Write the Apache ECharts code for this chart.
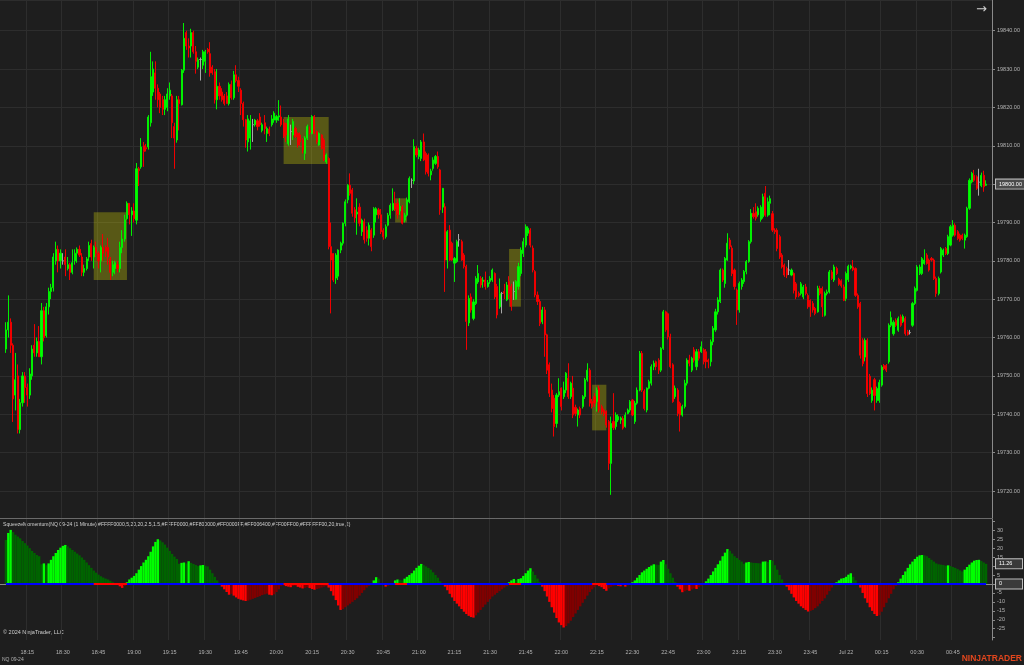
<!DOCTYPE html>
<html><head><meta charset="utf-8">
<script src="https://cdn.jsdelivr.net/npm/echarts@6/dist/echarts.min.js"></script>
<style>html,body{margin:0;padding:0;background:#1e1e1e;}#c{width:1024px;height:665px;}</style>
</head><body><div id="c"></div>
<script>
// ---- axis / time ----
const axisStart = '18:04';
const axisMinutes = 418;
const firstBarTime = '18:06';
const dayLabel = 'Jul 22';

// ---- NQ 09-24 1-minute bars (18:06 .. 00:59) ----
const opens = [
19757,19762,19764,19758,
19745,19750,19736,19743,19750,19747,19745,19750,19758,19756,
19759,19755,19767,19760.5,19768,19772,19773,19780,19783,19780,
19780,19781,19778,19779,19777,19780,19782,19783,19781,19777,
19778,19781,19784.5,19781,19783.5,19782,19780,19783.5,19783.5,19783.5,
19780.5,19777,19778,19779,19778,19783.5,19785.7,19791,19795,19792,
19793,19790.6,19804,19804.5,19810,19809.5,19809.7,19816,19824,19829,
19825,19823.5,19822,19819.5,19820,19823,19823,19815,19811.5,19822,
19820.7,19829.7,19839.5,19836,19836,19839.5,19834.5,19830.5,19832.5,19831,
19832,19835.1,19834,19830.5,19829.3,19822,19825.5,19824,19823,19823,
19821,19826,19822.5,19828.5,19827,19824.5,19821,19816.8,19811,19812,
19815.5,19815.5,19816.5,19817.5,19814,19816,19813.2,19814.3,19815.5,19816.7,
19816.7,19817.5,19817.5,19816,19815.8,19810.5,19813.7,19812.8,19814.5,19813.2,
19812.8,19811.5,19808,19812,19814,19813.2,19817.6,19813.7,19810.2,19812.8,
19811.5,19805.8,19806.7,19783.7,19781.9,19775.5,19776,19782.8,19784.6,19789.8,
19795.9,19799.7,19798.5,19793.3,19792.2,19794,19787.6,19790.2,19788,19785.9,
19788,19786.7,19792,19793.3,19792,19787.9,19786.3,19789.3,19791.9,19793.3,
19795,19795,19793,19794,19790.6,19791.9,19795.4,19801,19800.8,19809.3,
19807.2,19806.7,19811,19808,19807.6,19802.4,19804.1,19805.4,19807.2,19803.7,
19794,19794.1,19780.2,19788,19784.6,19779.4,19779.8,19785.5,19785,19781.5,
19778.5,19763.8,19770.6,19765,19768.9,19774.5,19775.4,19774.6,19775,19773.3,
19774.6,19775,19776.7,19773.3,19768,19771.5,19772,19769.8,19774.6,19773.3,
19772,19770,19773.3,19776.7,19781.9,19784.1,19787.2,19788,19783.3,19777.2,
19771.1,19769.4,19764.1,19767.2,19760.7,19752.9,19746.3,19744.2,19737.6,19745,
19746.8,19744.6,19746.3,19749.4,19744.6,19746.8,19741.8,19739.8,19741.5,19742,
19744.6,19749,19751.5,19743.3,19744.6,19743.3,19746.8,19742,19741.1,19740.7,
19738.1,19727.2,19738.1,19736.8,19738.5,19738.5,19738.9,19736.8,19740.2,19741.1,
19743.7,19738.1,19742.9,19746.3,19755.9,19746,19741.1,19746.8,19748.1,19752.4,
19753.7,19754.1,19751.5,19757.2,19766.7,19766.2,19760.2,19752.9,19744.6,19746.3,
19742.9,19739.8,19742,19748.1,19754.1,19751.5,19756.8,19752.4,19756.3,19756.3,
19756.8,19756.3,19754.1,19753.7,19758.9,19762,19766.7,19769.4,19777.6,19774.1,
19780.2,19785.4,19783.3,19777.6,19772.4,19767.2,19773.3,19774.6,19777.2,19779.8,
19785,19792.4,19792.8,19792,19790.8,19791.5,19797.6,19791.9,19795,19792.3,
19788,19788,19786.3,19781.5,19778.9,19778,19777.6,19776.3,19776.7,19774,
19771.5,19771.5,19770.6,19773.2,19771,19769.7,19768.9,19767.6,19766.7,19772.8,
19772.8,19765.8,19771.5,19771.9,19777.1,19775,19778,19775.2,19774.8,19773.2,
19770.2,19775.1,19778.2,19778.4,19778,19771,19768.9,19759.3,19754.9,19759.3,
19749.9,19743.6,19749,19743.6,19743.6,19747.6,19752.7,19752.7,19753.7,19763.2,
19761,19764.5,19761.9,19765.4,19764.2,19765,19761.5,19761.3,19763.2,19768.9,
19772.3,19776.7,19776.7,19779.3,19781.5,19780.2,19780.6,19780.2,19775.4,19771.5,
19777.1,19781.5,19783.2,19781.9,19784.1,19786.7,19789.3,19787.6,19786.7,19786.7,
19785.4,19786.3,19793.7,19800.6,19802.3,19801.9,19800.5,19799.6,19802.3,19799.7
];
const highs = [
19764,19771,19765,19758.5,
19756,19753,19744,19751,19751,19748,19752,19758,19763.5,19760,
19763,19769,19768,19769,19773,19774,19782,19785,19784,19783,
19782,19783,19781,19779.5,19783,19783,19783.5,19784,19782,19779,
19781,19785,19785.5,19784,19785,19782.5,19784,19787,19784,19786,
19781,19780,19780,19780,19785,19788,19792,19795.5,19795,19794,
19795,19805.5,19804.5,19812,19811,19810.5,19818,19834.5,19832,19832,
19826,19824,19823,19823,19825,19826.5,19823.5,19816,19823,19823,
19830,19842,19840,19838,19840.5,19840,19836,19833,19833,19835,
19835,19835.5,19837,19831,19830,19830,19826.5,19825,19823.5,19824,
19826.5,19827,19829.5,19831,19828,19825,19821.5,19817,19818,19818,
19817,19817,19817,19818.5,19816,19818,19815,19815,19818,19819,
19818,19821.9,19820.5,19817,19816,19818,19815.5,19817,19815,19813.5,
19813.5,19812,19812.5,19815.5,19815,19818,19818,19814,19813.5,19813,
19812,19808,19807,19790,19782,19782,19783,19785,19790,19796,
19800,19802.8,19799,19794,19796.3,19795,19791,19791,19789,19790,
19788.5,19794,19794,19793.8,19793.5,19788.5,19789.5,19792.5,19795,19798.9,
19798,19796,19796.3,19794.5,19792.5,19796.5,19802,19801.5,19811.7,19810,
19809.5,19811.5,19813.2,19808.5,19808,19804,19807,19807.6,19808.5,19804,
19799,19795,19788,19789.3,19785,19781,19785.5,19787,19785.5,19782,
19779,19771,19771.5,19770,19776,19778.9,19776,19775.8,19777.2,19775,
19776,19778,19777,19774,19775.4,19771.9,19774,19774.5,19776,19774,
19774.6,19775,19779.5,19783.5,19786,19789.5,19789,19788.5,19784,19777.6,
19772,19770,19768,19768,19761,19753.5,19748,19745,19745.5,19749.4,
19747,19748.5,19751,19753.3,19748.5,19750,19742.5,19741.5,19742,19745,
19749.5,19753.3,19752,19744,19745.5,19747,19747.5,19742.5,19741.5,19741,
19738.5,19739.4,19745.5,19740.5,19740,19739.4,19739.5,19740.5,19741.5,19743.7,
19744,19743.5,19747,19756.5,19756.5,19746.5,19747,19749,19753,19754,
19754,19754.6,19757.5,19767.2,19767,19766.5,19761,19753.3,19747.5,19746.8,
19743.3,19742.5,19749,19754.6,19755.5,19755,19757.5,19757,19757,19759,
19757.2,19757,19754.5,19759.5,19763,19767.5,19770.5,19778,19778,19781,
19787.2,19786,19784,19778,19772.8,19774.6,19775.5,19777.6,19780.2,19785.4,
19793.5,19794,19795,19794.2,19794.5,19797.5,19799.5,19796.5,19797,19793,
19788.5,19788.5,19786.8,19782,19779.3,19778.5,19780.2,19778,19777,19774.5,
19772,19774.5,19773.7,19774,19771.5,19770,19769.5,19768,19773.5,19773.5,
19773.3,19772,19772.5,19777.6,19777.6,19779,19778.5,19775.6,19775.2,19773.8,
19777.2,19779,19779,19780.2,19778.3,19771.5,19769.3,19759.8,19759.8,19759.8,
19750.5,19747,19749.5,19747.2,19749,19752.8,19753.1,19753.1,19763.7,19766.8,
19764.5,19765,19765.5,19766,19766,19765.5,19762,19762,19769.3,19773.3,
19778.9,19779,19781,19783,19782,19780.6,19781,19780.6,19775.9,19775.9,
19783.6,19783.2,19783.6,19786.8,19789.4,19790.6,19789.8,19788,19787.1,19787.1,
19787.1,19794.1,19801.5,19803.2,19803.7,19802.3,19804,19803,19803.5,19801
];
const lows = [
19756,19760,19756,19738,
19741,19735,19735,19742,19743,19742,19744,19749,19755,19755,
19755,19753,19759,19760,19766,19770,19772,19779,19777,19778,
19779,19776,19777.5,19775,19776.5,19779,19779.5,19781,19776,19776,
19777.5,19780,19780,19778,19781,19778,19777,19780,19781,19779,
19775,19776,19776.5,19777,19777,19782,19785,19790.7,19789.5,19786.5,
19790,19789.5,19799.5,19804,19804.5,19808.5,19809,19815,19823,19822,
19820,19818.5,19818,19818,19819,19822,19812,19804,19810.8,19814,
19820.5,19829,19835,19833,19833,19834,19828.8,19830,19827,19830,
19829,19834,19828,19828.5,19821,19819.5,19822,19821.5,19820.5,19821,
19820.5,19822,19822,19826.5,19824,19818,19815,19809.5,19808.5,19809,
19811,19815,19814,19815,19813.5,19813,19811,19812.5,19815,19816,
19816,19816.5,19815,19812,19811,19810,19810.2,19811.5,19812,19809.5,
19810,19808,19806.3,19811.5,19813,19813,19813,19810.5,19810,19809,
19806,19805.3,19783,19766.3,19774.5,19774,19775,19782,19784,19789,
19795,19797,19791.5,19790,19786.8,19789,19786.5,19784.5,19785,19784,
19782.5,19786,19790,19791,19787,19785.5,19785.8,19789,19791,19793,
19793,19791,19792,19789.5,19790,19791.5,19795,19799,19800,19807,
19806.5,19806,19806,19802.5,19802,19801,19803.5,19805,19804,19792,
19792.5,19771.9,19778,19780,19780,19774.5,19779.5,19783.7,19780,19778,
19756.8,19763,19766.5,19764.5,19768.5,19774,19773,19773,19772.5,19773,
19774,19774.5,19770,19765,19767.5,19766.3,19770,19769.5,19770,19767,
19769.8,19769.8,19772.5,19776,19781,19783.5,19786.5,19783.5,19777,19770.5,
19768.5,19763,19763.5,19755,19750.5,19744.5,19740.5,19734.2,19736.5,19744.5,
19741,19744,19745.5,19744,19744,19739,19739.5,19736.8,19739,19741.5,
19744,19748.5,19742,19741.5,19742,19740.7,19740.5,19740,19739.5,19736.5,
19725.5,19719,19735.9,19736,19738,19737.5,19736,19736.5,19740,19740.5,
19739.5,19737.5,19742.5,19746,19745.8,19741,19740.5,19746.5,19747.5,19751.5,
19751.5,19750.5,19751,19756.8,19761.5,19759.5,19752,19743,19744,19739.5,
19735.5,19739.4,19741.5,19747.5,19752.5,19751,19753.5,19751.5,19754,19756,
19753,19752,19752,19752.5,19758,19761.5,19766,19769,19774.5,19773,
19780,19783,19776,19772.5,19763.3,19766.5,19772.5,19774,19776.5,19779.5,
19784.5,19791,19790.5,19791.5,19790.2,19791,19791.5,19791.5,19791.9,19787.5,
19787,19782.5,19780.5,19778,19775.8,19775.5,19776.3,19776,19771.5,19770,
19770.5,19771,19770,19771,19767.5,19765.4,19766.5,19765.8,19766.5,19771,
19765.4,19765.5,19771,19771.5,19775,19774.5,19776.3,19773.5,19773,19769.5,
19769.5,19774.5,19777.8,19777.3,19770.6,19767.5,19754.5,19752.5,19753.8,19744.5,
19745,19743,19741,19743,19743,19747.2,19751.5,19751,19753.2,19762.7,
19760.5,19762.8,19761.5,19762.8,19763.8,19760.5,19760.5,19760.8,19762.8,19768.5,
19772,19776.3,19776.3,19779,19779,19777.2,19779.8,19775,19770.6,19771,
19776.7,19781,19781.5,19781.5,19783.8,19786.3,19786.3,19785.4,19785,19785.4,
19783.2,19786,19793.3,19800.2,19800.6,19798.5,19797,19799.2,19798,19799.5
];
const closes = [
19762,19764,19758,19744,
19749,19736,19743,19750,19747,19745,19750.5,19757,19756,19759,
19755,19767,19760,19768,19772,19773,19781,19783,19780,19782,
19780,19779,19779,19777,19779.5,19782,19783,19781.5,19777,19778,
19780.5,19784,19781,19783.5,19782,19780,19783.5,19782,19782.5,19781,
19777,19779,19779.5,19778,19783.5,19785.7,19790.7,19795,19792,19793,
19791,19804,19803.5,19809.7,19808.5,19809.2,19817.5,19828,19830,19825,
19822,19820,19819.5,19822,19823.5,19824.5,19816,19812,19822,19821,
19829.7,19838,19836,19835.5,19839.5,19834.5,19832,19832.4,19832.5,19834.5,
19834.5,19834.5,19829,19829,19822,19825.5,19823,19822,19821,19821,
19826,19822.5,19828.5,19827,19825.5,19821,19816.8,19811.5,19817,19816.5,
19815.5,19816.7,19815,19815.5,19815.5,19814.5,19814.5,19813.2,19817,19818.5,
19817.6,19817.8,19815.5,19812.5,19812.8,19817,19813.7,19816.3,19812.4,19810.2,
19811,19808.9,19812,19815,19813.5,19817.6,19813.2,19811,19813.2,19809.3,
19806.3,19807.6,19783.7,19780.2,19775,19781.5,19782.8,19784.6,19789.8,19795.4,
19799.7,19797.6,19792.4,19791.2,19792.7,19789.8,19790.6,19785.5,19785.9,19789.3,
19783.7,19793.6,19793.6,19792,19787.6,19786.3,19788.9,19791.9,19794.5,19795,
19793.5,19792,19794.2,19789.8,19791.9,19795.9,19801.5,19801,19809.8,19807.6,
19808.9,19811,19806.3,19803.2,19802.8,19803.4,19806.3,19807.2,19804.5,19793.3,
19798.9,19780.2,19787.6,19780.2,19780.2,19780.6,19785,19785.5,19780.2,19778.5,
19764.2,19770.2,19767.2,19769.3,19775.4,19776.7,19773.7,19775,19773.3,19774.3,
19775.4,19777.6,19770.6,19765.9,19771.5,19771.5,19771.5,19773.7,19771.5,19768.1,
19772,19774.6,19778.5,19782.8,19785,19788.9,19788.5,19784.1,19777.6,19771.1,
19769.4,19763.7,19767.2,19760.7,19751.5,19745.5,19741.5,19736.8,19745,19745.9,
19742,19746.3,19750.7,19744.6,19748.1,19739.8,19740.2,19741.1,19739.8,19744.6,
19749,19751.5,19742.9,19742,19742.9,19746.3,19741.1,19740.7,19740.2,19737.2,
19727.2,19737.6,19736.5,19739.8,19739.4,19739,19736.4,19739.8,19741.1,19743.3,
19739.8,19742.9,19746.3,19755.9,19746.3,19741.5,19746.8,19748.5,19752.4,19753.3,
19752.4,19751.5,19757.2,19766.7,19762,19760.2,19752.4,19743.3,19746.8,19740.2,
19739.8,19742,19748.1,19754.1,19753.3,19754.6,19754.1,19756.3,19754.6,19757.6,
19753.7,19753.7,19753.7,19758.9,19762.4,19766.7,19769.8,19777.6,19775,19780.6,
19784.6,19783.7,19776.7,19773.3,19767.2,19774.1,19775,19777.2,19779.8,19785,
19792.4,19791.5,19791.1,19793.7,19794,19796.7,19791.9,19795.4,19796.2,19788,
19787.6,19783.2,19781,19778.4,19776.3,19776.3,19777.6,19777.6,19772.3,19770.6,
19770.9,19774,19773.2,19771.5,19768,19768,19767.2,19766.3,19772.8,19771.5,
19768,19771.5,19771.9,19777.1,19775.4,19778.4,19776.7,19773.9,19773.5,19769.7,
19776.7,19778.6,19778.6,19777.7,19771,19768,19755.4,19753.2,19759.3,19745.4,
19745.4,19746.3,19744.9,19746.7,19748.3,19752.3,19751.9,19751.5,19763.2,19765.2,
19764,19763.2,19765,19763.2,19765.5,19761,19760.8,19761.3,19768.9,19772.8,
19778.4,19778.4,19780.6,19780.2,19779.3,19777.6,19780.2,19775.4,19771.5,19775.4,
19783.2,19782.8,19781.9,19786.3,19788.9,19789.3,19786.7,19785.8,19785.4,19785.8,
19786.7,19793.7,19801,19802.8,19801,19798.9,19800.5,19802.3,19799.3,19800
];

// ---- SqueezeMomentum histogram (same bars) ----
const momentum = [
24.6,28.5,30.2,29,
27.5,26.5,25.5,24,22.8,21.5,20,18.5,17.3,16.2,
15.5,11,11.5,10.5,11.5,13.5,15.5,17.3,19,20.3,
21.3,21.8,21,20,19,18,17,16,14.8,13.5,
12,10.5,9,7.5,6.3,5.2,4.3,3.6,3,2.5,
1.8,1,0.3,-0.6,-1.3,-2.2,-1.2,1,2.5,3.5,
4.5,6,8,10,12,13.5,15.5,18,21,23.5,
25,24.3,23.3,22,20.3,18.5,16.8,15.3,14,11.3,
11.8,12,11.5,12.7,11.8,11.2,10.6,10,10.4,10.6,
10.2,9.8,8,6,4,2,0.5,-1.5,-3,-4.5,
-6,-5.5,-6.5,-7.5,-8.3,-8.8,-9.2,-9.5,-9.3,-8.8,
-8.3,-7.8,-7.3,-6.8,-6.2,-5.8,-5.4,-6,-6.3,-5.8,
-4.5,-3,-1.2,-0.8,-1.2,-1.5,-1.8,-1.2,-1,-1.6,
-2,-2.5,-2.2,-1.8,-2.3,-2.8,-3.2,-2.8,-2.5,-2,
-1.5,-1.2,-2,-4,-6.5,-9,-12,-14.5,-14,-13,
-12,-11,-10,-9,-8,-6.5,-5,-3.5,-2,-1,
-0.3,2,3.8,3,0.5,-0.5,-1.5,-1,-0.3,0.5,
2,2.5,2.3,2,3,4,5,6,7.5,9,
10.2,11.2,10.5,9.8,9,8,6.5,5,3.5,1.5,
0.3,-1.5,-3.5,-5.5,-7.5,-9.5,-11,-12.5,-14,-15.5,
-16.8,-17.8,-18.5,-18.8,-17.5,-16,-14.5,-13,-11.5,-10,
-8.5,-7,-6,-5,-4,-3,-2,-1.2,1,2,
2.8,2.3,2.8,3.2,4.5,6,7.5,8.8,7,5,
3,1,-1.5,-4,-7,-10,-13,-16,-19,-21.5,
-23,-24.3,-23.5,-22,-20.5,-18.5,-16.5,-14.5,-12.5,-10.5,
-8.5,-6.5,-4.5,-3,-1.8,-0.8,-1.2,-1.8,-2.8,-3.8,
-2.5,-1.5,-1,-0.8,-1,-1.3,-0.8,-1.5,-0.8,0.5,
1,2,3.5,5,6.5,7.5,8.5,9.5,10.3,11,
10.8,10.6,12.5,13.4,11,8.5,6,3.5,1,-1.5,
-3,-4.6,-4,-3.5,-3.8,-3,-2.5,-2.8,-1.8,-1,
-0.3,1.5,3,5,7,9,11,13,15.5,17.5,
19.5,18.5,17,15.5,14.5,13.5,12.5,11.3,12,12.3,
12,11.8,11.7,11.6,11.5,12.5,12.6,12.3,13.4,13,
10.5,8,5,2.5,0.5,-1.5,-3.5,-5.5,-7.5,-9.5,
-11,-12.5,-13.5,-14.5,-15.4,-15,-14.5,-13.5,-12.5,-11,
-9.5,-8,-6,-4,-2,-0.5,1,2,3,3.3,
4,5.2,6,4,2,0.3,-2,-5,-8,-10.5,
-13,-15,-16.8,-17.9,-17.5,-15.5,-13,-10.5,-8,-5.5,
-3,-1,1,3,5,7,9,11,12.5,14,
15.2,16,16.2,16,15.5,14.5,13.5,12.5,11.5,11,
10.8,10.6,10.2,10.4,10,9.5,9,8.3,7.6,7,
8,9.5,10.8,12,13,13.4,13.5,12.8,12,11.26
];

// ---- squeeze periods: [start, end, low, high] ----
const squeezeBoxes = [
  ['18:43', '18:57', 19775.0, 19792.7],
  ['20:03', '20:22', 19805.25, 19817.5],
  ['20:50', '20:55', 19790.0, 19796.3],
  ['21:38', '21:43', 19768.05, 19783.1],
  ['22:13', '22:19', 19735.8, 19747.7]
];
const momentumTicksShown = [30, 25, 20, 15, 10, 5, 0, -5, -10, -15, -20, -25];

const titleText = 'SqueezeMomentum(NQ 09-24 (1 Minute),#FFFF0000,5,20,20,2.5,1.5,#FFFF0000,#FF800000,#FF0000FF,#FF006400,#FF00FF00,#FFFFFF00,20,true,2)';

// ---------- build ----------
function addMin(t, k) {
  const p = t.split(':').map(Number);
  const tot = (p[0] * 60 + p[1] + k) % 1440;
  return String(Math.floor(tot / 60)).padStart(2, '0') + ':' + String(tot % 60).padStart(2, '0');
}
const categories = [];
for (let k = 0; k < axisMinutes; k++) categories.push(addMin(axisStart, k));
const off = categories.indexOf(firstBarTime);
const lastIdx = off + closes.length - 1;
const candleData = categories.map((c, k) => {
  const i = k - off;
  return (i >= 0 && i < closes.length) ? [opens[i], closes[i], lows[i], highs[i]] : '-';
});
const histData = categories.map((c, k) => {
  const i = k - off;
  if (i < 0 || i >= momentum.length) return '-';
  const v = momentum[i], p = i > 0 ? momentum[i - 1] : v;
  let col;
  if (v >= 0) col = v > p ? '#00ff00' : '#006400';
  else col = v < p ? '#ff0000' : '#800000';
  return { value: v, itemStyle: { color: col } };
});
const zeroData = categories.map((c, k) => { const i = k - off; return (i >= 0 && i < momentum.length) ? 0 : '-'; });
const sqIdx = squeezeBoxes.map(b => [categories.indexOf(b[0]), categories.indexOf(b[1])]);
const zeroRed = categories.map((c, k) => sqIdx.some(r => k >= r[0] && k <= r[1]) ? 0 : '-');
const lastClose = closes[closes.length - 1];
const lastMom = momentum[momentum.length - 1];

const isQuarter = (idx, val) => idx <= lastIdx && Number(String(val).slice(3)) % 15 === 0;
const gridColor = '#2d2d2d';
const FONT = 'Liberation Sans';

const tagLabel = {
  show: true, position: 'end', distance: 4, color: '#ffffff', fontSize: 5.5, fontFamily: FONT,
  backgroundColor: '#3a3a3a', borderColor: '#bdbdbd', borderWidth: 1, padding: [2, 3, 1, 3]
};

const chart = echarts.init(document.getElementById('c'), null, { renderer: 'canvas' });
chart.setOption({
  backgroundColor: '#1e1e1e',
  animation: false,
  grid: [
    { left: 0, right: 32, top: 0, height: 518 },
    { left: 0, right: 32, top: 519, height: 121 }
  ],
  xAxis: [
    { gridIndex: 0, type: 'category', data: categories, boundaryGap: true,
      axisLine: { show: true, lineStyle: { color: '#6a6a6a', width: 1 } }, axisTick: { show: false }, axisLabel: { show: false },
      splitLine: { show: true, interval: isQuarter, lineStyle: { color: gridColor, width: 1 } } },
    { gridIndex: 1, type: 'category', data: categories, boundaryGap: true,
      axisLine: { show: true, lineStyle: { color: '#8a8a8a', width: 1 } }, axisTick: { show: false },
      axisLabel: { show: true, interval: isQuarter, color: '#b4b4b4', fontSize: 5.5, fontFamily: FONT, margin: 9,
        formatter: v => v === '00:00' ? dayLabel : v },
      splitLine: { show: true, interval: isQuarter, lineStyle: { color: gridColor, width: 1 } } }
  ],
  yAxis: [
    { gridIndex: 0, type: 'value', position: 'right', min: 19712.96, max: 19848, splitNumber: 13,
      axisLine: { show: true, lineStyle: { color: '#8a8a8a' } },
      axisTick: { show: true, length: 3, lineStyle: { color: '#8a8a8a' } },
      axisLabel: { color: '#b4b4b4', fontSize: 5.5, fontFamily: FONT, margin: 5, showMinLabel: false, showMaxLabel: false,
        formatter: v => v.toFixed(2) },
      splitLine: { show: true, lineStyle: { color: gridColor } } },
    { gridIndex: 1, type: 'value', position: 'right', min: -31.3, max: 36.3, splitNumber: 14,
      axisLine: { show: true, lineStyle: { color: '#8a8a8a' } },
      axisTick: { show: true, length: 3, lineStyle: { color: '#8a8a8a' } },
      axisLabel: { color: '#b4b4b4', fontSize: 5.5, fontFamily: FONT, margin: 5, showMinLabel: false, showMaxLabel: false,
        formatter: v => momentumTicksShown.indexOf(Math.round(v)) >= 0 ? String(Math.round(v)) : '' },
      splitLine: { show: false } }
  ],
  series: [
    { type: 'candlestick', xAxisIndex: 0, yAxisIndex: 0, data: candleData, barWidth: 1.6,
      itemStyle: { color: '#00ff00', color0: '#ff0000', borderColor: '#00f000', borderColor0: '#f00000', borderColorDoji: '#a8a8a8', borderWidth: 1 },
      markArea: { silent: true, itemStyle: { color: 'rgba(255,255,0,0.26)' },
        data: squeezeBoxes.map(b => [{ xAxis: b[0], yAxis: b[2] }, { xAxis: b[1], yAxis: b[3] }]) },
      markLine: { silent: true, symbol: ['none', 'none'], lineStyle: { color: 'rgba(0,0,0,0)', width: 0 },
        data: [{ yAxis: lastClose, label: Object.assign({}, tagLabel, { formatter: lastClose.toFixed(2), backgroundColor: '#4a4a4a' }) }] } },
    { type: 'bar', xAxisIndex: 1, yAxisIndex: 1, data: histData, barCategoryGap: '0%', barGap: '0%',
      markLine: { silent: true, symbol: ['none', 'none'], lineStyle: { color: 'rgba(0,0,0,0)', width: 0 },
        data: [
          { yAxis: lastMom, label: Object.assign({}, tagLabel, { formatter: lastMom.toFixed(2), width: 20 }) },
          { yAxis: 0, label: Object.assign({}, tagLabel, { formatter: '0', width: 20 }) }
        ] } },
    { type: 'line', xAxisIndex: 1, yAxisIndex: 1, data: zeroData, symbol: 'none', lineStyle: { color: '#0000ff', width: 2 }, z: 5 },
    { type: 'line', xAxisIndex: 1, yAxisIndex: 1, data: zeroRed, symbol: 'none', connectNulls: false, lineStyle: { color: '#ff0000', width: 2 }, z: 6 }
  ],
  graphic: [
    { type: 'text', left: 3, top: 522, style: { text: titleText, fill: '#cfcfcf', font: '5.1px "' + FONT + '"' } },
    { type: 'text', left: 3, top: 629, style: { text: '\u00a9 2024 NinjaTrader, LLC', fill: '#cfcfcf', font: '5.5px "' + FONT + '"' } },
    { type: 'text', left: 2, top: 657, style: { text: 'NQ 09-24', fill: '#b4b4b4', font: '5px "' + FONT + '"' } },
    { type: 'text', right: 2, top: 654, style: { text: 'NINJATRADER', fill: '#e2461d', font: 'bold 8.5px "' + FONT + '"' } },
    { type: 'text', left: 976, top: 3, style: { text: '\u2192', fill: '#d0d0d0', font: '13px "DejaVu Sans"' } }
  ]
});
</script>
</body></html>
